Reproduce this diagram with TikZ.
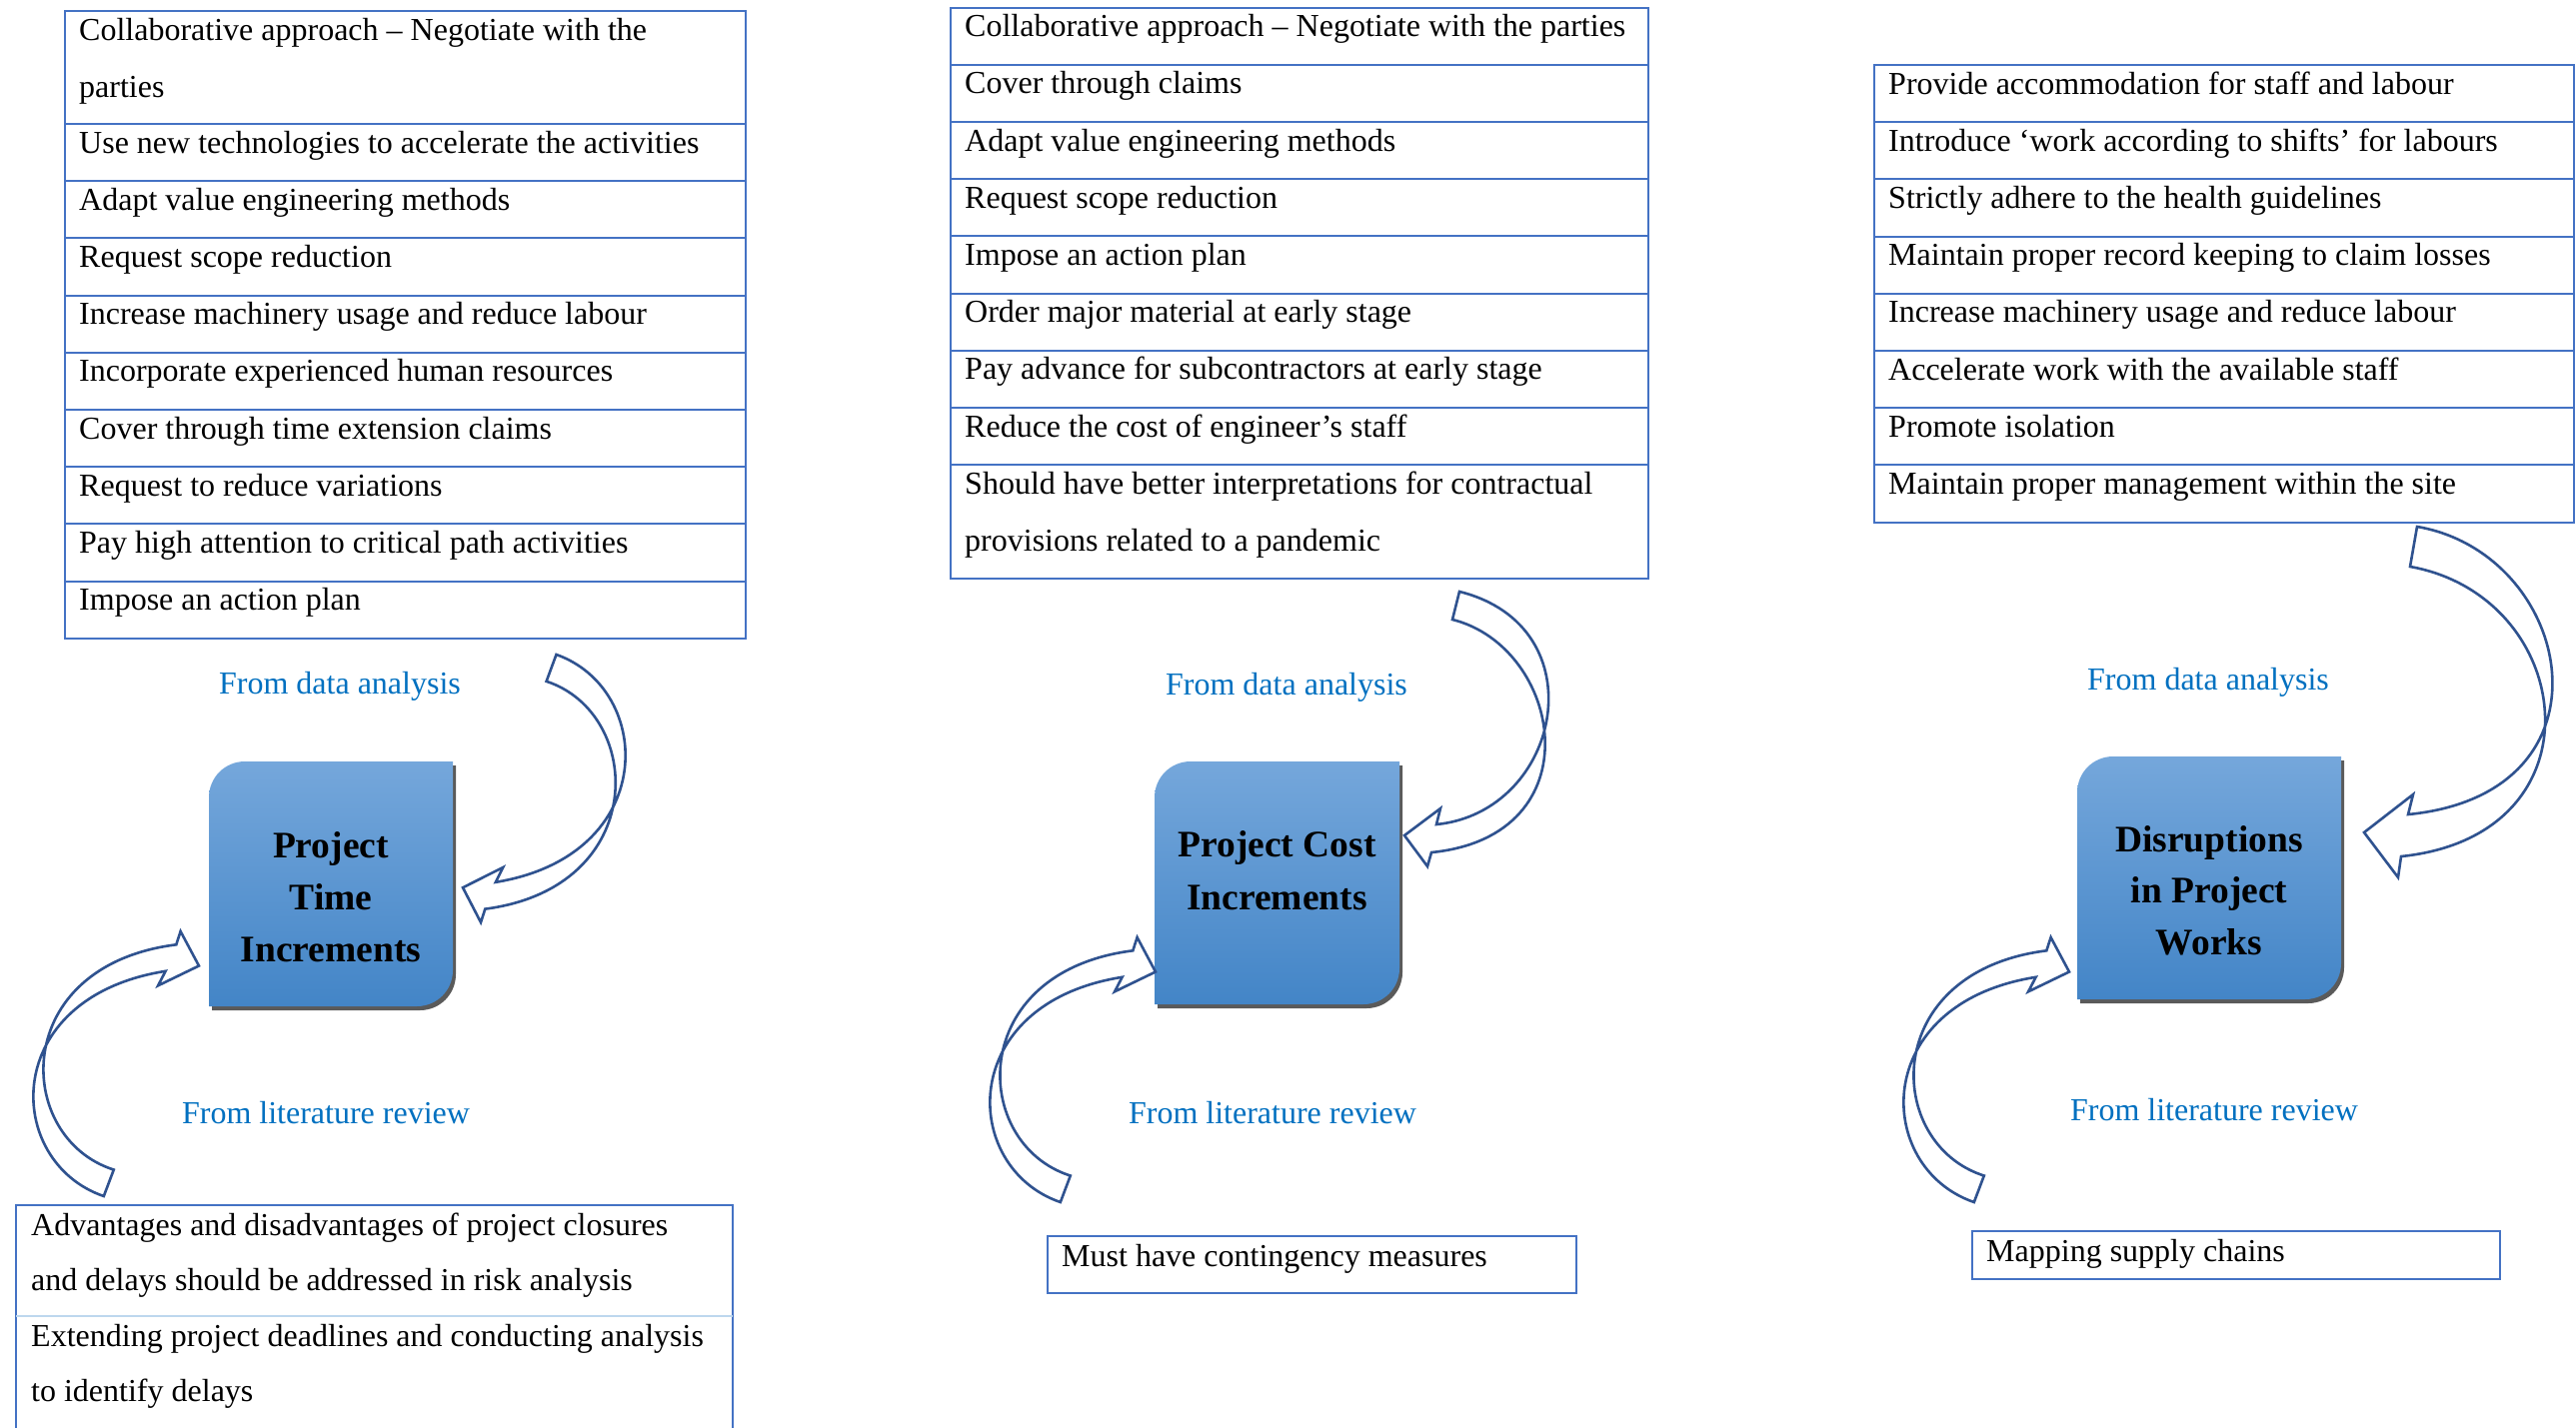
\documentclass[tikz,border=0pt]{standalone}
\usepackage{fontspec}
\setmainfont{Liberation Serif}

\definecolor{tblblue}{RGB}{68,114,196}
\definecolor{seplight}{RGB}{189,215,238}
\definecolor{bandblue}{RGB}{47,82,143}
\definecolor{srcblue}{RGB}{0,112,192}
\definecolor{boxtop}{RGB}{117,167,219}
\definecolor{boxbot}{RGB}{67,133,199}
\definecolor{boxshade}{RGB}{90,90,90}

\newcommand\rowfont{\fontsize{32}{57}\selectfont}
\newcommand\hubfont{\bfseries\fontsize{37.5}{52}\selectfont}

\tikzset{
  cell/.style={draw=tblblue, line width=2pt, rectangle, anchor=north west,
               inner sep=0pt, minimum width=#1},
  blank/.style={rectangle, anchor=north west, inner sep=0pt, minimum width=#1},
  entry/.style={anchor=base west, inner sep=0pt, font=\rowfont},
  src/.style={anchor=base, inner sep=0pt, font=\rowfont, text=srcblue},
  hubline/.style={anchor=base, inner sep=0pt, font=\hubfont},
  band/.style={draw=bandblue, line width=2.6pt, line join=miter},
  frame/.style={draw=tblblue, line width=2pt},
  innersep/.style={draw=seplight, line width=2pt},
}

% hub box: rounded top-left and bottom-right corners
\newcommand\hubshape[5]{%
  \path[#1] (#2,{#3+36}) .. controls (#2,{#3+16}) and ({#2+16},#3) .. ({#2+36},#3)
    -- (#4,#3) -- (#4,{#5-36}) .. controls (#4,{#5-16}) and ({#4-16},#5) .. ({#4-36},#5)
    -- (#2,#5) -- cycle;}
\newcommand\hubbox[4]{%
  \hubshape{fill=boxshade, shift={(3,4)}}{#1}{#2}{#3}{#4}
  \hubshape{top color=boxtop, bottom color=boxbot}{#1}{#2}{#3}{#4}}

% curved block arrow rising from below and turning right
\newcommand\litarrow[2]{%
  \begin{scope}[shift={(#1,#2)}]
    \draw[band] (103.8,1197) .. controls (3.6,1162.6) and (-1.4,998.3) .. (165.6,971.8)
      -- (158.1,986.3) -- (199,966.5) -- (180.6,932) -- (176.3,945.3)
      .. controls (8.6,966.5) and (13.6,1138.7) .. (113.8,1170.5) -- cycle;
  \end{scope}}

\begin{document}
\begin{tikzpicture}[x=1pt,y=-1pt]
\useasboundingbox (0,0) rectangle (2577,1428);
\fill[white] (0,0) rectangle (2577,1428);

% ---------- left table ----------
\node[cell=681pt, minimum height=113pt] (ta0) at (64,10) {};
\node[entry] (ta0a) at ([shift={(15,30)}]ta0.north west) {Collaborative approach – Negotiate with the};
\node[entry] (ta0b) at ([shift={(15,87)}]ta0.north west) {parties};
\foreach \t [count=\i] in {Use new technologies to accelerate the activities,
    Adapt value engineering methods, Request scope reduction,
    Increase machinery usage and reduce labour, Incorporate experienced human resources,
    Cover through time extension claims, Request to reduce variations,
    Pay high attention to critical path activities, Impose an action plan}{
  \node[cell=681pt, minimum height=57.2pt] (ta\i) at (64,{123+(\i-1)*57.2}) {};
  \node[entry] (tat\i) at ([shift={(15,30)}]ta\i.north west) {\t};
}

% ---------- middle table ----------
\foreach \t [count=\i] in {Collaborative approach – Negotiate with the parties,
    Cover through claims, Adapt value engineering methods, Request scope reduction,
    Impose an action plan, Order major material at early stage,
    Pay advance for subcontractors at early stage, Reduce the cost of engineer’s staff}{
  \node[cell=698pt, minimum height=57.2pt] (tm\i) at (950,{6.6+(\i-1)*57.2}) {};
  \node[entry] (tmt\i) at ([shift={(15,30)}]tm\i.north west) {\t};
}
\node[cell=698pt, minimum height=113.5pt] (tm9) at (950,464.2) {};
\node[entry] (tm9a) at ([shift={(15,30)}]tm9.north west) {Should have better interpretations for contractual};
\node[entry] (tm9b) at ([shift={(15,87)}]tm9.north west) {provisions related to a pandemic};

% ---------- right table ----------
\foreach \t [count=\i] in {Provide accommodation for staff and labour,
    Introduce ‘work according to shifts’ for labours,
    Strictly adhere to the health guidelines,
    Maintain proper record keeping to claim losses,
    Increase machinery usage and reduce labour,
    Accelerate work with the available staff, Promote isolation,
    Maintain proper management within the site}{
  \node[cell=700pt, minimum height=57.2pt] (tr\i) at (1874,{64+(\i-1)*57.2}) {};
  \node[entry] (trt\i) at ([shift={(15,30)}]tr\i.north west) {\t};
}

% ---------- literature tables ----------
\node[blank=717pt, minimum height=110.5pt] (tb1) at (16,1206) {};
\node[blank=717pt, minimum height=135pt] (tb2) at (16,1316.5) {};
\draw[frame] (tb2.south west) -- (tb1.north west) -- (tb1.north east) -- (tb2.south east);
\draw[innersep] (tb1.south west) -- (tb1.south east);
\node[entry] (tb1a) at ([shift={(15,30)}]tb1.north west) {Advantages and disadvantages of project closures};
\node[entry] (tb1b) at ([shift={(15,85)}]tb1.north west) {and delays should be addressed in risk analysis};
\node[entry] (tb2a) at ([shift={(15,30.5)}]tb2.north west) {Extending project deadlines and conducting analysis};
\node[entry] (tb2b) at ([shift={(15,85.5)}]tb2.north west) {to identify delays};

\node[cell=529pt, minimum height=57pt] (bm) at (1047,1236) {};
\node[entry] (bmt) at ([shift={(15,31)}]bm.north west) {Must have contingency measures};
\node[cell=528pt, minimum height=48pt] (brx) at (1972,1231) {};
\node[entry] (brt) at ([shift={(15,31)}]brx.north west) {Mapping supply chains};

% ---------- hub boxes ----------
\hubbox{209}{762}{453}{1007}
\node[hubline] (h1a) at (331,858) {Project};
\node[hubline] (h1b) at (331,910) {Time};
\node[hubline] (h1c) at (331,962) {Increments};

\hubbox{1155}{762}{1400}{1005}
\node[hubline] (h2a) at (1277.5,857) {Project Cost};
\node[hubline] (h2b) at (1277.5,910) {Increments};

\hubbox{2078}{757}{2342}{1000}
\node[hubline] (h3a) at (2210,852) {Disruptions};
\node[hubline] (h3b) at (2210,903.5) {in Project};
\node[hubline] (h3c) at (2210,955) {Works};

% ---------- source labels ----------
\node[src] (sd1) at (340,694) {From data analysis};
\node[src] (sl1) at (326,1124) {From literature review};
\node[src] (sd2) at (1287,695) {From data analysis};
\node[src] (sl2) at (1273,1124) {From literature review};
\node[src] (sd3) at (2209,690) {From data analysis};
\node[src] (sl3) at (2215,1121) {From literature review};

% ---------- curved block arrows from the data tables ----------
\draw[band] (556.5,655) .. controls (654.9,689.8) and (659.8,856) .. (495.8,882.8)
  -- (503.2,868) -- (463,888.2) -- (481,923) -- (485.3,909.6)
  .. controls (650,888.2) and (645,714) .. (546.6,681.8) -- cycle;
\draw[band] (1460,592) .. controls (1600,627) and (1562,812.5) .. (1437,825)
  -- (1441,809) -- (1405,836) -- (1428,867) -- (1432,853)
  .. controls (1597,836.5) and (1563,647.5) .. (1453,620) -- cycle;
\draw[band] (2418,527) .. controls (2575,554) and (2624,794) .. (2409,815)
  -- (2414,795) -- (2365,833) -- (2399,878) -- (2402,857)
  .. controls (2607,836) and (2578,597) .. (2411,567) -- cycle;

% ---------- curved block arrows from the literature tables ----------
\litarrow{0}{0}
\litarrow{957}{6}
\litarrow{1871}{6}
\end{tikzpicture}
\end{document}
